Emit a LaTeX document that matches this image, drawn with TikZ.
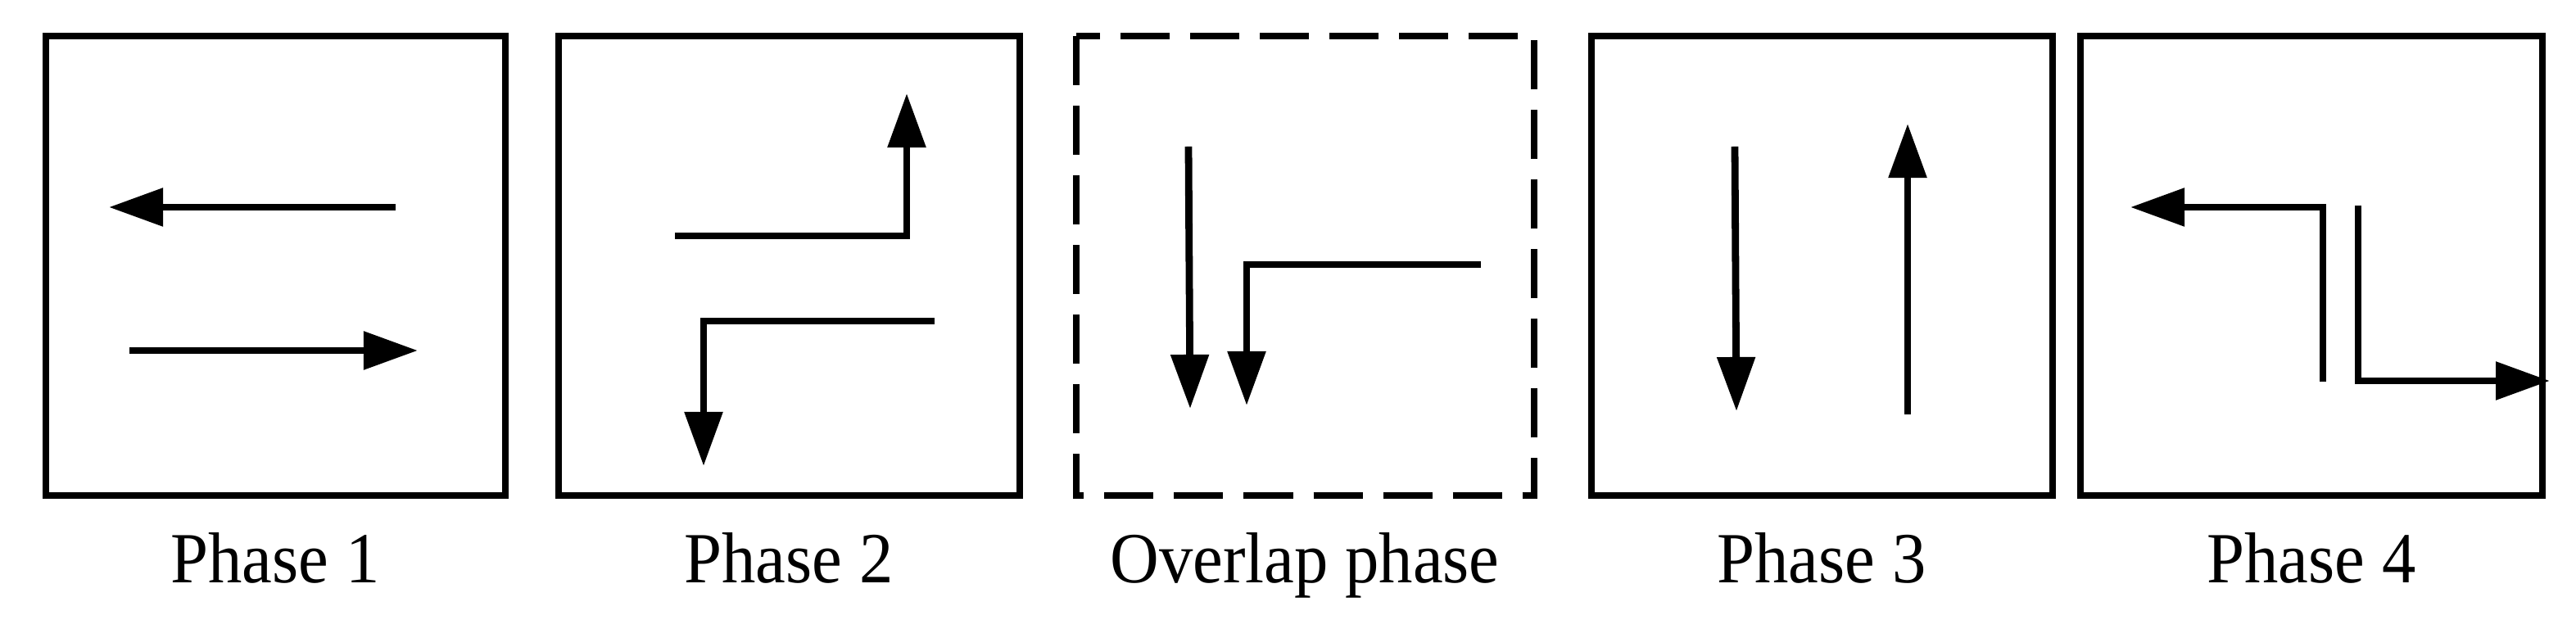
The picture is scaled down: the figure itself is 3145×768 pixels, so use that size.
\documentclass[tikz,border=0pt]{standalone}
\usepackage{fontspec}
\setmainfont{Liberation Serif}
\usetikzlibrary{arrows.meta}
\begin{document}
\begin{tikzpicture}[x=0.01cm,y=-0.01cm,
  frame/.style={line width=2.1pt},
  dframe/.style={line width=2.3pt,dash pattern=on 0.6cm off 0.25cm},
  arr/.style={line width=2.5pt,-{Triangle[length=0.66cm,width=0.45cm]}},
  lbl/.style={font=\fontsize{25}{29}\selectfont,xscale=0.94,anchor=base}]
\useasboundingbox (0,0) rectangle (3145,768);
\draw[frame] (56,44) rectangle (617,605);
\draw[frame] (682,44) rectangle (1245,605);
\draw[dframe] (1314,44) rectangle (1873,605);
\draw[frame] (1943,44) rectangle (2506,605);
\draw[frame] (2540,44) rectangle (3104,605);
% phase 1
\draw[arr] (483,253) -- (133,253);
\draw[arr] (158,428) -- (510,428);
% phase 2
\draw[arr] (824,288) -- (1107,288) -- (1107,114);
\draw[arr] (1141,392) -- (859,392) -- (859,569);
% overlap
\draw[arr] (1451,179) -- (1453,499);
\draw[arr] (1808,323) -- (1522,323) -- (1522,495);
% phase 3
\draw[arr] (2118,179) -- (2120,502);
\draw[arr] (2329,506) -- (2329,151);
% phase 4
\draw[arr] (2836,466) -- (2836,253) -- (2601,253);
\draw[arr] (2879,251) -- (2879,465) -- (3113,465);
% labels
\node[lbl] (l1) at (336,712) {Phase 1};
\node[lbl] (l2) at (963,712) {Phase 2};
\node[lbl] (l3) at (1593,712) {Overlap phase};
\node[lbl] (l4) at (2224,712) {Phase 3};
\node[lbl] (l5) at (2822,712) {Phase 4};
\end{tikzpicture}
\end{document}
